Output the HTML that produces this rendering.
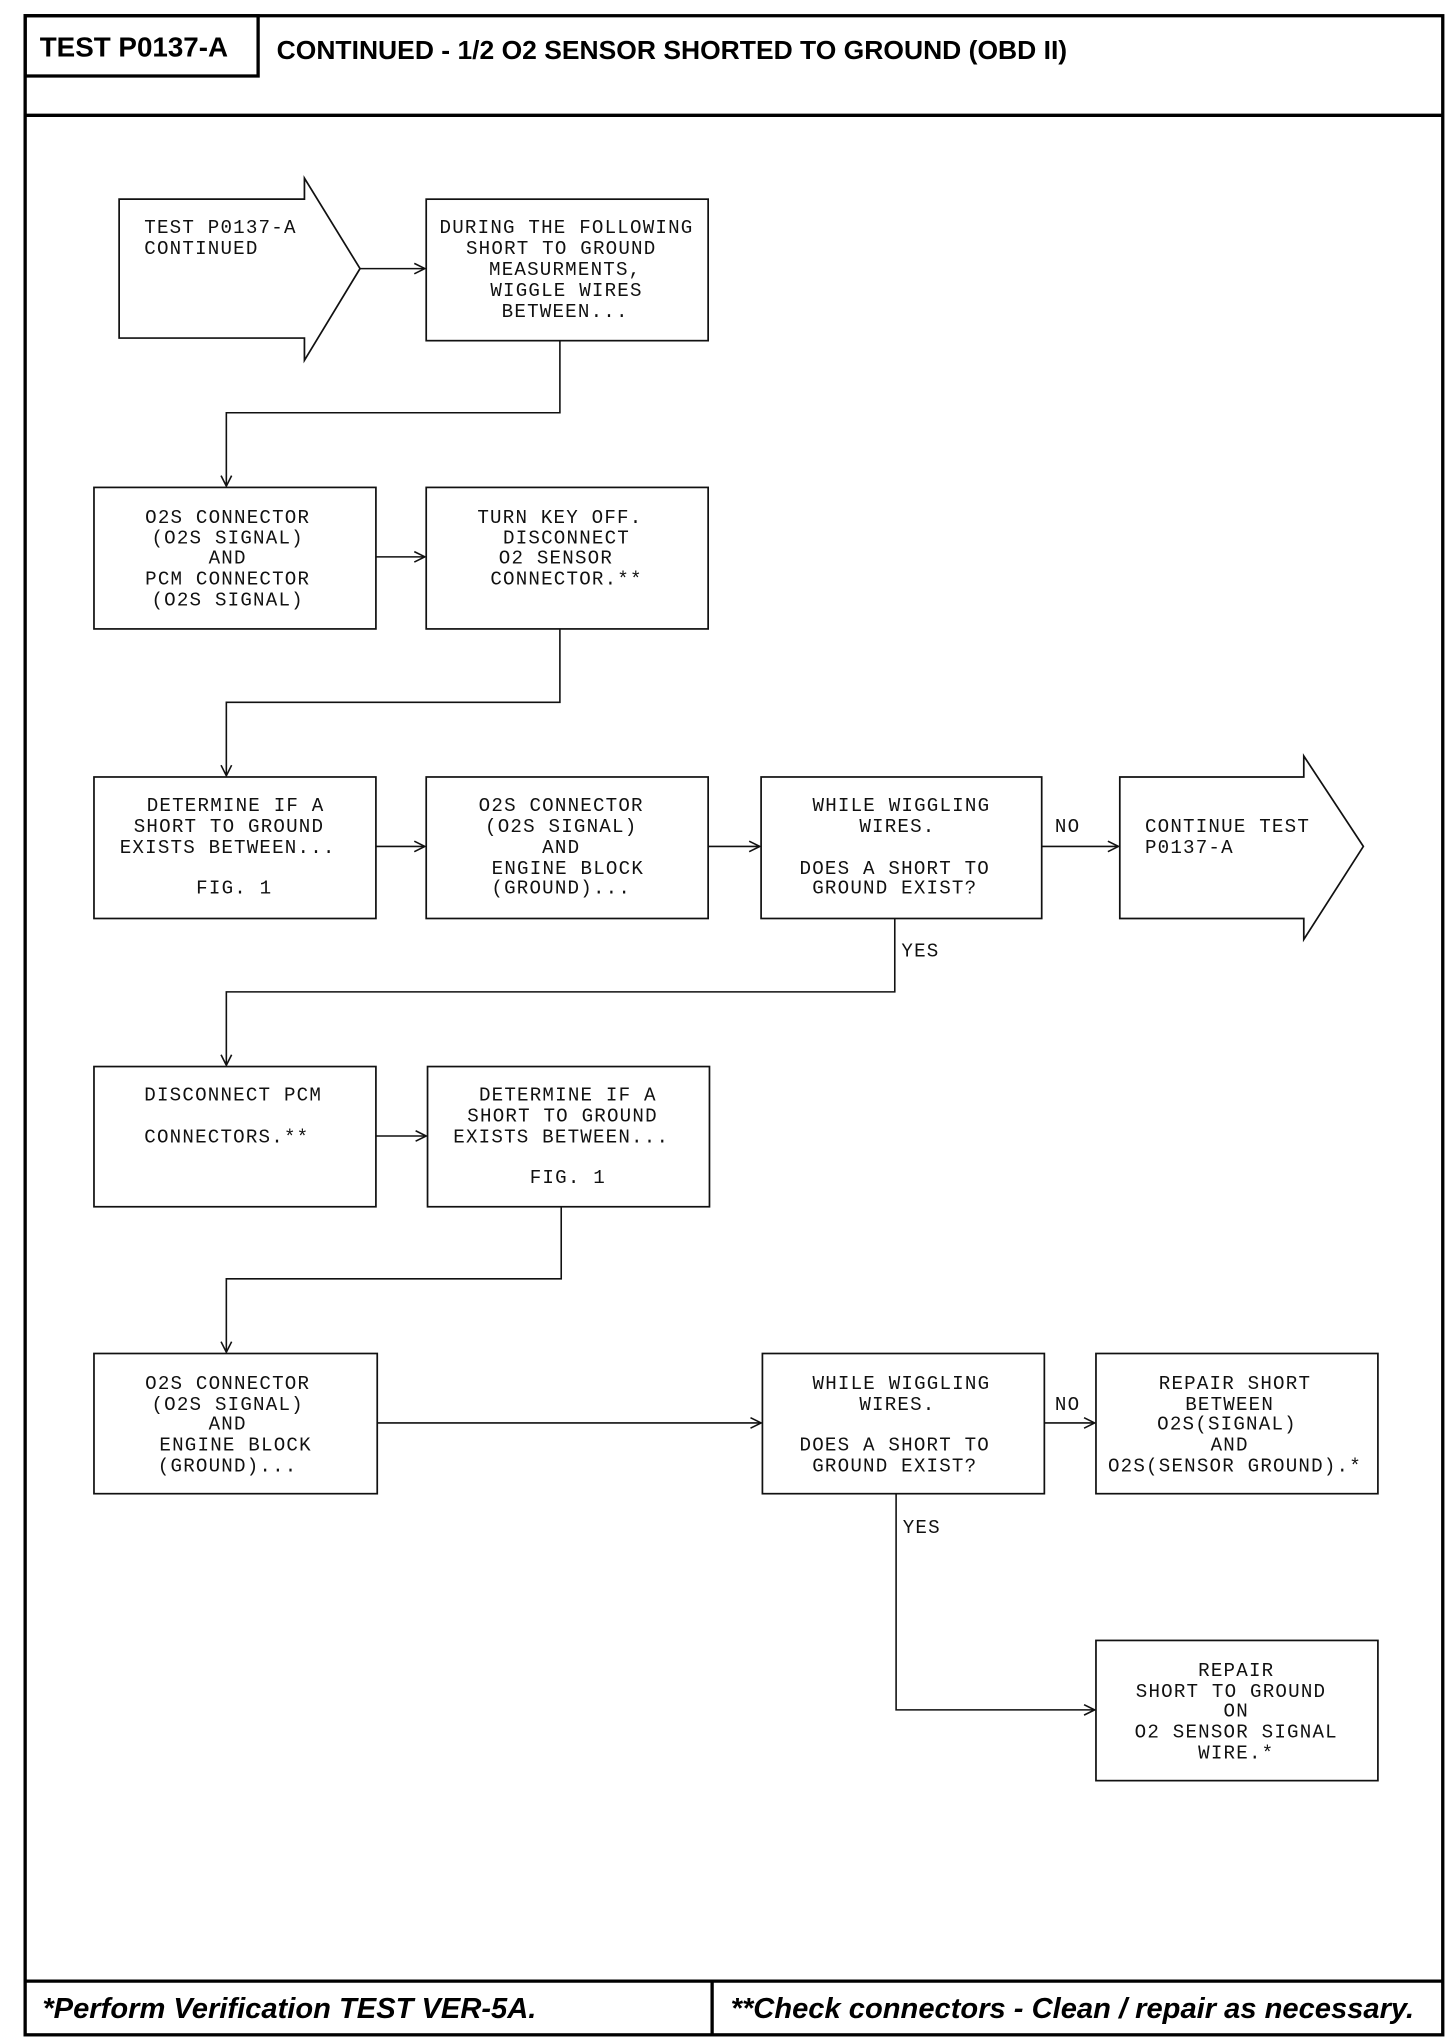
<!DOCTYPE html>
<html><head><meta charset="utf-8"><style>
html,body{margin:0;padding:0;background:#fff;}
svg{display:block;}
.t{font-family:"Liberation Mono",monospace;font-size:14.5px;letter-spacing:0.9px;fill:#111;}
.c{text-anchor:middle;}
.b{fill:#fff;stroke:#111;stroke-width:1.3;}
.l{fill:none;stroke:#111;stroke-width:1.2;}
.h{font-family:"Liberation Sans",sans-serif;font-weight:bold;font-size:21px;fill:#000;}
.f{font-family:"Liberation Sans",sans-serif;font-weight:bold;font-style:italic;font-size:22px;fill:#000;}
</style></head><body>
<svg width="1456" height="2044" viewBox="0 0 1100 1560" preserveAspectRatio="none">
<defs><marker id="a" markerWidth="10" markerHeight="10" refX="9" refY="5" orient="auto" markerUnits="userSpaceOnUse"><path d="M1,1 L9,5 L1,9" fill="none" stroke="#111" stroke-width="1.2"/></marker></defs>
<rect x="19" y="12" width="1071" height="1541" fill="none" stroke="#000" stroke-width="2.5"/>
<rect x="19" y="12" width="176" height="46" fill="none" stroke="#000" stroke-width="2.5"/>
<line x1="19" y1="88" x2="1090" y2="88" stroke="#000" stroke-width="2.5"/>
<line x1="19" y1="1512" x2="1090" y2="1512" stroke="#000" stroke-width="2.5"/>
<line x1="538" y1="1512" x2="538" y2="1553" stroke="#000" stroke-width="2.5"/>
<text class="h" x="30" y="43">TEST P0137-A</text>
<text class="h" x="209" y="45" style="font-size:20px">CONTINUED - 1/2 O2 SENSOR SHORTED TO GROUND (OBD II)</text>
<text class="f" x="32" y="1540">*Perform Verification TEST VER-5A.</text>
<text class="f" x="552" y="1540">**Check connectors - Clean / repair as necessary.</text>

<path class="b" d="M90,152 H230 V136 L272,205 L230,275 V258 H90 Z"/>
<path class="b" d="M846,593 H985 V577 L1030,646 L985,717 V701 H846 Z"/>
<rect class="b" x="322" y="152" width="213" height="108"/>
<rect class="b" x="71" y="372" width="213" height="108"/>
<rect class="b" x="322" y="372" width="213" height="108"/>
<rect class="b" x="71" y="593" width="213" height="108"/>
<rect class="b" x="322" y="593" width="213" height="108"/>
<rect class="b" x="575" y="593" width="212" height="108"/>
<rect class="b" x="71" y="814" width="213" height="107"/>
<rect class="b" x="323" y="814" width="213" height="107"/>
<rect class="b" x="71" y="1033" width="214" height="107"/>
<rect class="b" x="576" y="1033" width="213" height="107"/>
<rect class="b" x="828" y="1033" width="213" height="107"/>
<rect class="b" x="828" y="1252" width="213" height="107"/>

<g marker-end="url(#a)">
<path class="l" d="M272,205 H321"/>
<path class="l" d="M423,260 V315 H171 V371"/>
<path class="l" d="M284,425 H321"/>
<path class="l" d="M423,480 V536 H171 V592"/>
<path class="l" d="M284,646 H321"/>
<path class="l" d="M535,646 H574"/>
<path class="l" d="M787,646 H845"/>
<path class="l" d="M676,701 V757 H171 V813"/>
<path class="l" d="M284,867 H322"/>
<path class="l" d="M424,921 V976 H171 V1032"/>
<path class="l" d="M285,1086 H575"/>
<path class="l" d="M789,1086 H827"/>
<path class="l" d="M677,1140 V1305 H827"/>
</g>

<g class="t">
<text x="109" y="178">TEST P0137-A</text><text x="109" y="194">CONTINUED</text>
<g class="c">
<text x="428" y="178">DURING THE FOLLOWING</text><text x="424" y="194">SHORT TO GROUND</text><text x="427" y="210">MEASURMENTS,</text><text x="428" y="226">WIGGLE WIRES</text><text x="427" y="242">BETWEEN...</text>
<text x="172" y="399">O2S CONNECTOR</text><text x="172" y="415">(O2S SIGNAL)</text><text x="172" y="430">AND</text><text x="172" y="446">PCM CONNECTOR</text><text x="172" y="462">(O2S SIGNAL)</text>
<text x="423" y="399">TURN KEY OFF.</text><text x="428" y="415">DISCONNECT</text><text x="420" y="430">O2 SENSOR</text><text x="428" y="446">CONNECTOR.**</text>
<text x="178" y="619">DETERMINE IF A</text><text x="173" y="635">SHORT TO GROUND</text><text x="172" y="651">EXISTS BETWEEN...</text><text x="177" y="682">FIG. 1</text>
<text x="424" y="619">O2S CONNECTOR</text><text x="424" y="635">(O2S SIGNAL)</text><text x="424" y="651">AND</text><text x="429" y="667">ENGINE BLOCK</text><text x="424" y="682">(GROUND)...</text>
<text x="681" y="619">WHILE WIGGLING</text><text x="678" y="635">WIRES.</text><text x="676" y="667">DOES A SHORT TO</text><text x="676" y="682">GROUND EXIST?</text>
<text x="429" y="840">DETERMINE IF A</text><text x="425" y="856">SHORT TO GROUND</text><text x="424" y="872">EXISTS BETWEEN...</text><text x="429" y="903">FIG. 1</text>
<text x="172" y="1060">O2S CONNECTOR</text><text x="172" y="1076">(O2S SIGNAL)</text><text x="172" y="1091">AND</text><text x="178" y="1107">ENGINE BLOCK</text><text x="172" y="1123">(GROUND)...</text>
<text x="681" y="1060">WHILE WIGGLING</text><text x="678" y="1076">WIRES.</text><text x="676" y="1107">DOES A SHORT TO</text><text x="676" y="1123">GROUND EXIST?</text>
<text x="933" y="1060">REPAIR SHORT</text><text x="929" y="1076">BETWEEN</text><text x="927" y="1091">O2S(SIGNAL)</text><text x="929" y="1107">AND</text><text x="933" y="1123">O2S(SENSOR GROUND).*</text>
<text x="934" y="1279">REPAIR</text><text x="930" y="1295">SHORT TO GROUND</text><text x="934" y="1310">ON</text><text x="934" y="1326">O2 SENSOR SIGNAL</text><text x="934" y="1342">WIRE.*</text>
</g>
<text x="109" y="840">DISCONNECT PCM</text><text x="109" y="872">CONNECTORS.**</text>
<text x="865" y="635">CONTINUE TEST</text><text x="865" y="651">P0137-A</text>
<text x="797" y="635">NO</text><text x="681" y="730">YES</text>
<text x="797" y="1076">NO</text><text x="682" y="1170">YES</text>
</g>
</svg>
</body></html>
